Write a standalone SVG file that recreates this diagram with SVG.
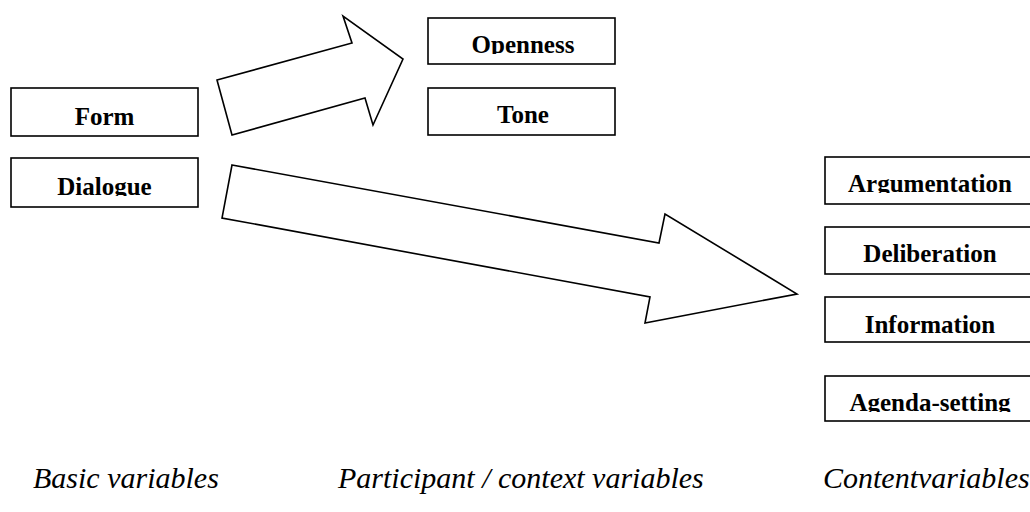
<svg xmlns="http://www.w3.org/2000/svg" width="1030" height="512" viewBox="0 0 1030 512">
<style>
.box{fill:#fff;stroke:#000;stroke-width:1.6}
.lbl{font-family:"Liberation Serif","Times New Roman",serif;font-weight:bold;font-size:25px;text-anchor:middle;fill:#000}
.cap{font-family:"Liberation Serif","Times New Roman",serif;font-style:italic;font-size:30px;fill:#000}
.arrow{fill:#fff;stroke:#000;stroke-width:1.6;stroke-linejoin:miter}
</style>
<defs>
<clipPath id="cOpen"><rect x="428" y="18" width="187" height="36"/></clipPath>
<clipPath id="cDia"><rect x="11" y="158" width="187" height="38"/></clipPath>
<clipPath id="cArg"><rect x="825" y="157" width="210" height="36"/></clipPath>
<clipPath id="cAge"><rect x="825" y="376" width="210" height="36"/></clipPath>
</defs>
<rect width="1030" height="512" fill="#fff"/>
<g id="connectors">
<polygon class="arrow" points="217,80 352,43 343,16 403,59 373,125 365,98 232,135"/>
<polygon class="arrow" points="232,165 659,243 665,214 797,294 645,323 650,297 222,218"/>
</g>
<g id="form"><rect class="box" x="11" y="88" width="187" height="48"/><text class="lbl" x="104.5" y="125">Form</text></g>
<g id="dialogue"><rect class="box" x="11" y="158" width="187" height="49"/><text class="lbl" x="104.5" y="195" clip-path="url(#cDia)">Dialogue</text></g>
<g id="openness"><rect class="box" x="428" y="18" width="187" height="46"/><text class="lbl" x="523" y="53" clip-path="url(#cOpen)">Openness</text></g>
<g id="tone"><rect class="box" x="428" y="88" width="187" height="47"/><text class="lbl" x="523" y="123">Tone</text></g>
<g id="argumentation"><rect class="box" x="825" y="157" width="215" height="47"/><text class="lbl" x="930" y="192" clip-path="url(#cArg)">Argumentation</text></g>
<g id="deliberation"><rect class="box" x="825" y="227" width="215" height="47"/><text class="lbl" x="930" y="262">Deliberation</text></g>
<g id="information"><rect class="box" x="825" y="297" width="215" height="45"/><text class="lbl" x="930" y="333">Information</text></g>
<g id="agenda"><rect class="box" x="825" y="376" width="215" height="45"/><text class="lbl" x="930" y="411" clip-path="url(#cAge)">Agenda-setting</text></g>
<g id="captions">
<text class="cap" x="33" y="488">Basic variables</text>
<text class="cap" x="338" y="488">Participant / context variables</text>
<text class="cap" x="823" y="488">Contentvariables</text>
</g>
</svg>
